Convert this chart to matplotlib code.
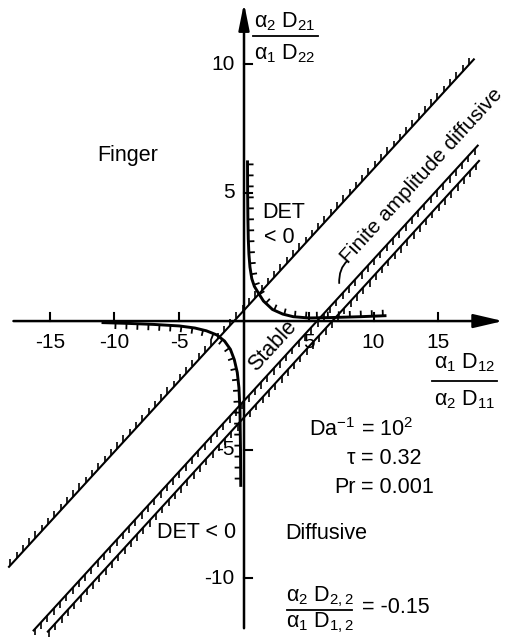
import numpy as np
import matplotlib
matplotlib.use("Agg")
import matplotlib.pyplot as plt
from matplotlib.collections import LineCollection
from matplotlib.path import Path
from matplotlib.patches import PathPatch

plt.rcParams["font.family"] = ["Liberation Sans", "DejaVu Sans"]
plt.rcParams["mathtext.fontset"] = "custom"
plt.rcParams["mathtext.rm"] = "Liberation Sans"
plt.rcParams["mathtext.it"] = "Liberation Sans"
plt.rcParams["mathtext.default"] = "regular"

# ---- data -------------------------------------------------------------
x_ticks = [-15, -10, -5, 5, 10, 15]
y_ticks = [-10, -5, 5, 10]

# neutral-stability lines  y = slope * x + intercept
line_slope = 0.55
upper_intercept, upper_x = 0.42, (-18.2, 17.8)
inner_intercept, inner_x = -3.10, (-16.3, 18.1)
outer_intercept, outer_x = -3.75, (-15.2, 18.2)

# DET = 0 curve, first-quadrant branch
det_upper_x = [0.27, 0.28, 0.30, 0.33, 0.38, 0.46, 0.60, 0.80, 1.10, 1.50, 2.20, 3.00, 3.80, 5.0, 7.0, 9.0, 11.0]
det_upper_y = [6.25, 5.00, 4.00, 3.20, 2.60, 2.10, 1.65, 1.35, 1.10, 0.78, 0.45, 0.27, 0.17, 0.12, 0.14, 0.17, 0.21]

# DET = 0 curve, third-quadrant branch
det_lower_x = [-11.0, -9.0, -7.0, -5.0, -3.8, -2.9, -2.1, -1.5, -1.05, -0.75, -0.52, -0.39, -0.31, -0.27, -0.25]
det_lower_y = [-0.06, -0.09, -0.13, -0.19, -0.27, -0.38, -0.54, -0.78, -1.10, -1.50, -2.00, -2.60, -3.50, -5.00, -6.45]

# ---- figure -----------------------------------------------------------
W, H = 513, 638
fig = plt.figure(figsize=(W / 100, H / 100), dpi=100)
ax = fig.add_axes([0, 0, 1, 1])
ax.set_xlim(-18.84, 20.77)
ax.set_ylim(-12.33, 12.49)
ax.axis("off")
fig.patch.set_facecolor("white")

FS = 15.5
FS_TICK = 15


def hatched(xs, ys, side=1, spacing=9.0, length=6.0, lw=1.4, direction=None, start=3.0, tlw=None):
    """Draw a polyline with short hatch strokes on one side (display units in px)."""
    xs = np.asarray(xs, float)
    ys = np.asarray(ys, float)
    ax.plot(xs, ys, color="k", lw=lw, solid_capstyle="butt", solid_joinstyle="round")
    P = ax.transData.transform(np.column_stack([xs, ys]))
    seg = np.diff(P, axis=0)
    seglen = np.hypot(seg[:, 0], seg[:, 1])
    cum = np.concatenate([[0.0], np.cumsum(seglen)])
    inv = ax.transData.inverted()
    ticks = []
    for s in np.arange(start, cum[-1] - 1.0, spacing):
        i = min(np.searchsorted(cum, s, side="right") - 1, len(seglen) - 1)
        f = (s - cum[i]) / seglen[i]
        p = P[i] + f * seg[i]
        t = seg[i] / seglen[i]
        if direction is None:
            n = side * np.array([-t[1], t[0]])
        else:
            n = np.asarray(direction, float)
            n = n / np.hypot(*n)
        q = p + length * n
        ticks.append(inv.transform(np.vstack([p, q])))
    ax.add_collection(LineCollection(ticks, colors="k", linewidths=tlw if tlw else lw * 0.8))


# axes with arrow heads
ax.annotate("", xy=(20.0, 0), xytext=(-17.8, 0),
            arrowprops=dict(arrowstyle="-|>,head_length=1.8,head_width=0.42",
                            lw=1.8, color="k", shrinkA=0, shrinkB=0))
ax.annotate("", xy=(0, 12.37), xytext=(0, -11.95),
            arrowprops=dict(arrowstyle="-|>,head_length=1.6,head_width=0.32",
                            lw=1.8, color="k", shrinkA=0, shrinkB=0))

# axis ticks and labels
for xt in x_ticks:
    ax.plot([xt, xt], [0, 0.32], color="k", lw=1.5)
    ax.text(xt, -0.82, f"{xt}", ha="center", va="center", fontsize=FS_TICK)
for yt in y_ticks:
    ax.plot([0, 0.62], [yt, yt], color="k", lw=1.5)
    ax.text(-0.75, yt, f"{yt}", ha="right", va="center", fontsize=FS_TICK)

# neutral-stability lines
ux = np.array(upper_x)
hatched(ux, line_slope * ux + upper_intercept, direction=(0, 1), spacing=9.3, length=6.5, lw=1.5, tlw=1.2)
ix = np.array(inner_x)
hatched(ix, line_slope * ix + inner_intercept, direction=(0, -1), spacing=9.3, length=6.5, lw=1.5, tlw=1.2)
ox = np.array(outer_x)
hatched(ox, line_slope * ox + outer_intercept, direction=(0, -1), spacing=9.3, length=6.5, lw=1.5, tlw=1.2)

# DET = 0 branches
hatched(det_upper_x, det_upper_y, side=1, spacing=11, length=6, lw=2.1, tlw=1.3, start=4)
hatched(det_lower_x, det_lower_y, side=-1, spacing=11, length=6, lw=2.1, tlw=1.3, start=14)

# region labels
ax.text(-8.96, 6.46, "Finger", ha="center", va="center", fontsize=FS)
ax.text(1.39, 4.24, "DET", ha="left", va="center", fontsize=FS)
ax.text(1.55, 3.27, "< 0", ha="left", va="center", fontsize=FS)
ax.text(2.2, -0.95, "Stable", ha="center", va="center", fontsize=FS, rotation=47.5,
        rotation_mode="anchor")
ax.text(13.7, 5.66, "Finite amplitude diffusive", ha="center", va="center", fontsize=15,
        rotation=47.5, rotation_mode="anchor")
ax.text(-6.7, -8.21, "DET < 0", ha="left", va="center", fontsize=FS)
ax.text(3.17, -8.25, "Diffusive", ha="left", va="center", fontsize=FS)

# leader from label to line
leader = Path([(8.0, 2.35), (7.3, 2.05), (7.35, 1.45)], [Path.MOVETO, Path.CURVE3, Path.CURVE3])
ax.add_patch(PathPatch(leader, fill=False, lw=1.3, color="k"))

# axis titles as stacked fractions
ax.text(3.17, 11.63, r"α$_2$ D$_{21}$", ha="center", va="center", fontsize=FS)
ax.plot([0.69, 5.71], [11.09, 11.09], color="k", lw=1.3)
ax.text(3.17, 10.39, r"α$_1$ D$_{22}$", ha="center", va="center", fontsize=FS)

ax.text(17.07, -1.63, r"α$_1$ D$_{12}$", ha="center", va="center", fontsize=FS)
ax.plot([14.52, 19.54], [-2.33, -2.33], color="k", lw=1.3)
ax.text(17.07, -3.07, r"α$_2$ D$_{11}$", ha="center", va="center", fontsize=FS)

# parameters
ax.text(8.6, -4.24, r"Da$^{-1}$", ha="right", va="center", fontsize=FS)
ax.text(9.0, -4.24, r"= 10$^2$", ha="left", va="center", fontsize=FS)
ax.text(8.6, -5.33, "τ", ha="right", va="center", fontsize=FS)
ax.text(9.0, -5.33, "= 0.32", ha="left", va="center", fontsize=FS)
ax.text(8.6, -6.46, "Pr", ha="right", va="center", fontsize=FS)
ax.text(9.0, -6.46, "= 0.001", ha="left", va="center", fontsize=FS)

ax.text(5.87, -10.74, r"α$_2$ D$_{2,2}$", ha="center", va="center", fontsize=FS)
ax.plot([3.32, 8.34], [-11.25, -11.25], color="k", lw=1.3)
ax.text(5.87, -11.75, r"α$_1$ D$_{1,2}$", ha="center", va="center", fontsize=FS)
ax.text(9.11, -11.13, "= -0.15", ha="left", va="center", fontsize=FS)

fig.savefig("out.png", dpi=100, facecolor="white")
